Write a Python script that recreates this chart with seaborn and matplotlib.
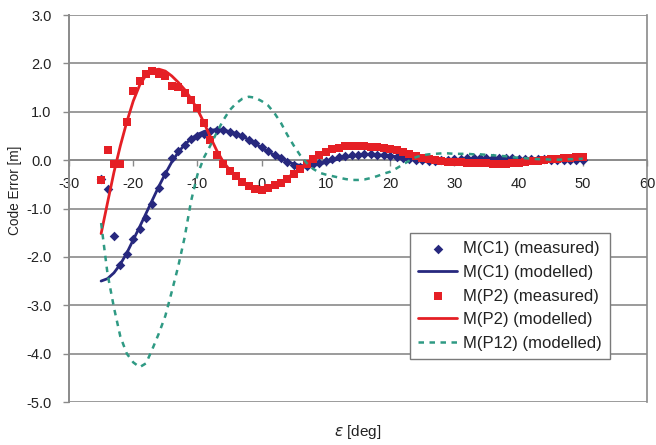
import numpy as np
import pandas as pd
import matplotlib
matplotlib.use("Agg")
import matplotlib.pyplot as plt
import seaborn as sns
from matplotlib.ticker import FormatStrFormatter

# ---------------- data ----------------
eps = list(range(-25, 51))

c1_measured = [-0.38, -0.60, -1.57, -2.17, -1.95, -1.64, -1.43, -1.20, -0.90, -0.58,
               -0.28, 0.05, 0.18, 0.31, 0.43, 0.50, 0.55, 0.60, 0.62, 0.62,
               0.58, 0.54, 0.49, 0.42, 0.35, 0.27, 0.19, 0.11, 0.04, -0.03,
               -0.10, -0.14, -0.13, -0.09, -0.05, -0.01, 0.03, 0.06, 0.08, 0.10,
               0.11, 0.12, 0.12, 0.11, 0.10, 0.09, 0.07, 0.05, 0.03, 0.01,
               0.00, -0.01, -0.01, 0.00, 0.01, 0.02, 0.03, 0.04, 0.05, 0.05,
               0.05, 0.05, 0.05, 0.04, 0.04, 0.03, 0.03, 0.02, 0.02, 0.02,
               0.01, 0.01, 0.01, 0.00, 0.00, 0.00]

c1_modelled = [-2.50, -2.45, -2.33, -2.15, -1.92, -1.65, -1.38, -1.10, -0.82, -0.54,
               -0.28, -0.04, 0.16, 0.32, 0.44, 0.53, 0.59, 0.62, 0.63, 0.62,
               0.59, 0.55, 0.49, 0.42, 0.34, 0.26, 0.18, 0.10, 0.03, -0.03,
               -0.08, -0.11, -0.12, -0.11, -0.08, -0.05, -0.01, 0.02, 0.05, 0.08,
               0.10, 0.11, 0.12, 0.11, 0.10, 0.09, 0.07, 0.05, 0.03, 0.01,
               -0.01, -0.02, -0.03, -0.03, -0.02, -0.01, 0.00, 0.01, 0.02, 0.02,
               0.03, 0.03, 0.03, 0.03, 0.02, 0.02, 0.01, 0.01, 0.00, 0.00,
               0.00, 0.00, 0.00, 0.00, 0.00, 0.00]

p2_measured = [-0.41, 0.21, -0.09, -0.09, 0.79, 1.42, 1.64, 1.78, 1.84, 1.78,
               1.73, 1.53, 1.51, 1.38, 1.24, 1.08, 0.77, 0.41, 0.10, -0.07,
               -0.22, -0.33, -0.45, -0.53, -0.60, -0.61, -0.57, -0.52, -0.47, -0.38,
               -0.28, -0.18, -0.07, 0.02, 0.10, 0.17, 0.22, 0.26, 0.29, 0.30,
               0.30, 0.29, 0.28, 0.27, 0.25, 0.23, 0.20, 0.16, 0.12, 0.08,
               0.05, 0.02, 0.00, -0.02, -0.03, -0.04, -0.04, -0.05, -0.05, -0.06,
               -0.06, -0.07, -0.07, -0.07, -0.06, -0.05, -0.04, -0.02, -0.01, 0.00,
               0.02, 0.03, 0.04, 0.05, 0.06, 0.07]

p2_modelled = [-1.52, -0.88, -0.25, 0.30, 0.79, 1.22, 1.55, 1.76, 1.86, 1.88,
               1.84, 1.74, 1.61, 1.46, 1.27, 1.05, 0.78, 0.48, 0.20, -0.03,
               -0.20, -0.34, -0.45, -0.53, -0.58, -0.59, -0.57, -0.52, -0.45, -0.37,
               -0.27, -0.17, -0.07, 0.02, 0.10, 0.16, 0.21, 0.25, 0.27, 0.28,
               0.28, 0.27, 0.26, 0.24, 0.22, 0.20, 0.17, 0.14, 0.11, 0.07,
               0.04, 0.02, -0.01, -0.02, -0.04, -0.05, -0.05, -0.06, -0.06, -0.06,
               -0.07, -0.07, -0.07, -0.06, -0.06, -0.05, -0.04, -0.03, -0.02, -0.01,
               0.00, 0.01, 0.02, 0.03, 0.04, 0.05]

p12_modelled = [-1.30, -2.35, -3.05, -3.65, -4.00, -4.18, -4.28, -4.20, -3.90, -3.58,
                -3.22, -2.72, -2.20, -1.60, -0.85, -0.30, 0.05, 0.30, 0.57, 0.82,
                1.03, 1.17, 1.27, 1.31, 1.29, 1.22, 1.13, 0.97, 0.77, 0.52,
                0.30, 0.10, -0.06, -0.18, -0.26, -0.30, -0.33, -0.36, -0.39, -0.41,
                -0.41, -0.40, -0.37, -0.33, -0.28, -0.24, -0.17, -0.09, -0.01, 0.06,
                0.10, 0.12, 0.13, 0.14, 0.14, 0.13, 0.13, 0.13, 0.12, 0.12,
                0.11, 0.10, 0.09, 0.08, 0.06, 0.05, 0.04, 0.03, 0.02, 0.02,
                0.01, 0.01, 0.01, 0.02, 0.02, 0.03]

x_ticks = [-30, -20, -10, 0, 10, 20, 30, 40, 50, 60]
y_ticks = [3.0, 2.0, 1.0, 0.0, -1.0, -2.0, -3.0, -4.0, -5.0]

df = pd.DataFrame({
    "eps": eps,
    "c1_meas": c1_measured, "c1_mod": c1_modelled,
    "p2_meas": p2_measured, "p2_mod": p2_modelled,
    "p12_mod": p12_modelled,
})

# ---------------- style ----------------
sns.set_style("white")
plt.rcParams["font.family"] = ["Liberation Sans", "DejaVu Sans"]
plt.rcParams["axes.unicode_minus"] = False

BLUE = "#27287e"
RED = "#e51f25"
GREEN = "#2f9a84"
GRID = "#8a8a8a"
TXT = "#222222"

fig = plt.figure(figsize=(6.56, 4.45), dpi=100)
ax = fig.add_axes([69 / 656, 1 - 402 / 445, 578 / 656, 387 / 445])

sns.scatterplot(data=df, x="eps", y="c1_meas", ax=ax, marker="D", s=24,
                color=BLUE, edgecolor=BLUE, linewidth=0, label="M(C1) (measured)", zorder=3)
sns.lineplot(data=df, x="eps", y="c1_mod", ax=ax, color=BLUE, linewidth=2.0,
             label="M(C1) (modelled)", zorder=4)
sns.scatterplot(data=df, x="eps", y="p2_meas", ax=ax, marker="s", s=36,
                color=RED, edgecolor=RED, linewidth=0, label="M(P2) (measured)", zorder=5)
sns.lineplot(data=df, x="eps", y="p2_mod", ax=ax, color=RED, linewidth=2.0,
             label="M(P2) (modelled)", zorder=6)
sns.lineplot(data=df, x="eps", y="p12_mod", ax=ax, color=GREEN, linewidth=1.8,
             label="M(P12) (modelled)", zorder=7)
ax.lines[-1].set_dashes([2.2, 2.2])

ax.set_xlim(-30, 60)
ax.set_ylim(-5, 3)
ax.set_xticks(x_ticks)
ax.set_yticks(y_ticks)
ax.yaxis.set_major_formatter(FormatStrFormatter("%.1f"))

# grid & frame
ax.grid(False)
for yv in y_ticks:
    ax.axhline(yv, color=GRID, linewidth=1.2, zorder=0.5)
ax.spines["bottom"].set_position(("data", 0))
ax.spines["bottom"].set_color(GRID)
ax.spines["bottom"].set_linewidth(1.2)
ax.spines["left"].set_color(GRID)
ax.spines["left"].set_linewidth(1.4)
ax.spines["right"].set_color(GRID)
ax.spines["right"].set_linewidth(1.2)
ax.spines["top"].set_visible(False)

ax.tick_params(axis="x", direction="out", length=4, color=GRID, width=1,
               labelsize=10.5, pad=8, labelcolor=TXT)
ax.tick_params(axis="y", direction="out", length=4, color=GRID, width=1,
               labelsize=10.5, pad=8.5, labelcolor=TXT)
ax.tick_params(left=True, bottom=True)

ax.set_xlabel(r"$\varepsilon$ [deg]", fontsize=11, color=TXT)
ax.xaxis.set_label_coords(0.5, -0.055)
ax.set_ylabel("Code Error [m]", fontsize=9.8, color=TXT)
ax.yaxis.set_label_coords(-0.081, 0.548)

leg = ax.legend(loc="upper left", bbox_to_anchor=(0.59, 0.437), fontsize=12,
                frameon=True, fancybox=False, framealpha=1, edgecolor="#7a7a7a",
                handlelength=2.3, handletextpad=0.35, labelspacing=0.52,
                borderpad=0.5, borderaxespad=0)
leg.get_frame().set_linewidth(1.0)
leg.set_zorder(10)
for t in leg.get_texts():
    t.set_color(TXT)

fig.savefig("out.png", dpi=100)
